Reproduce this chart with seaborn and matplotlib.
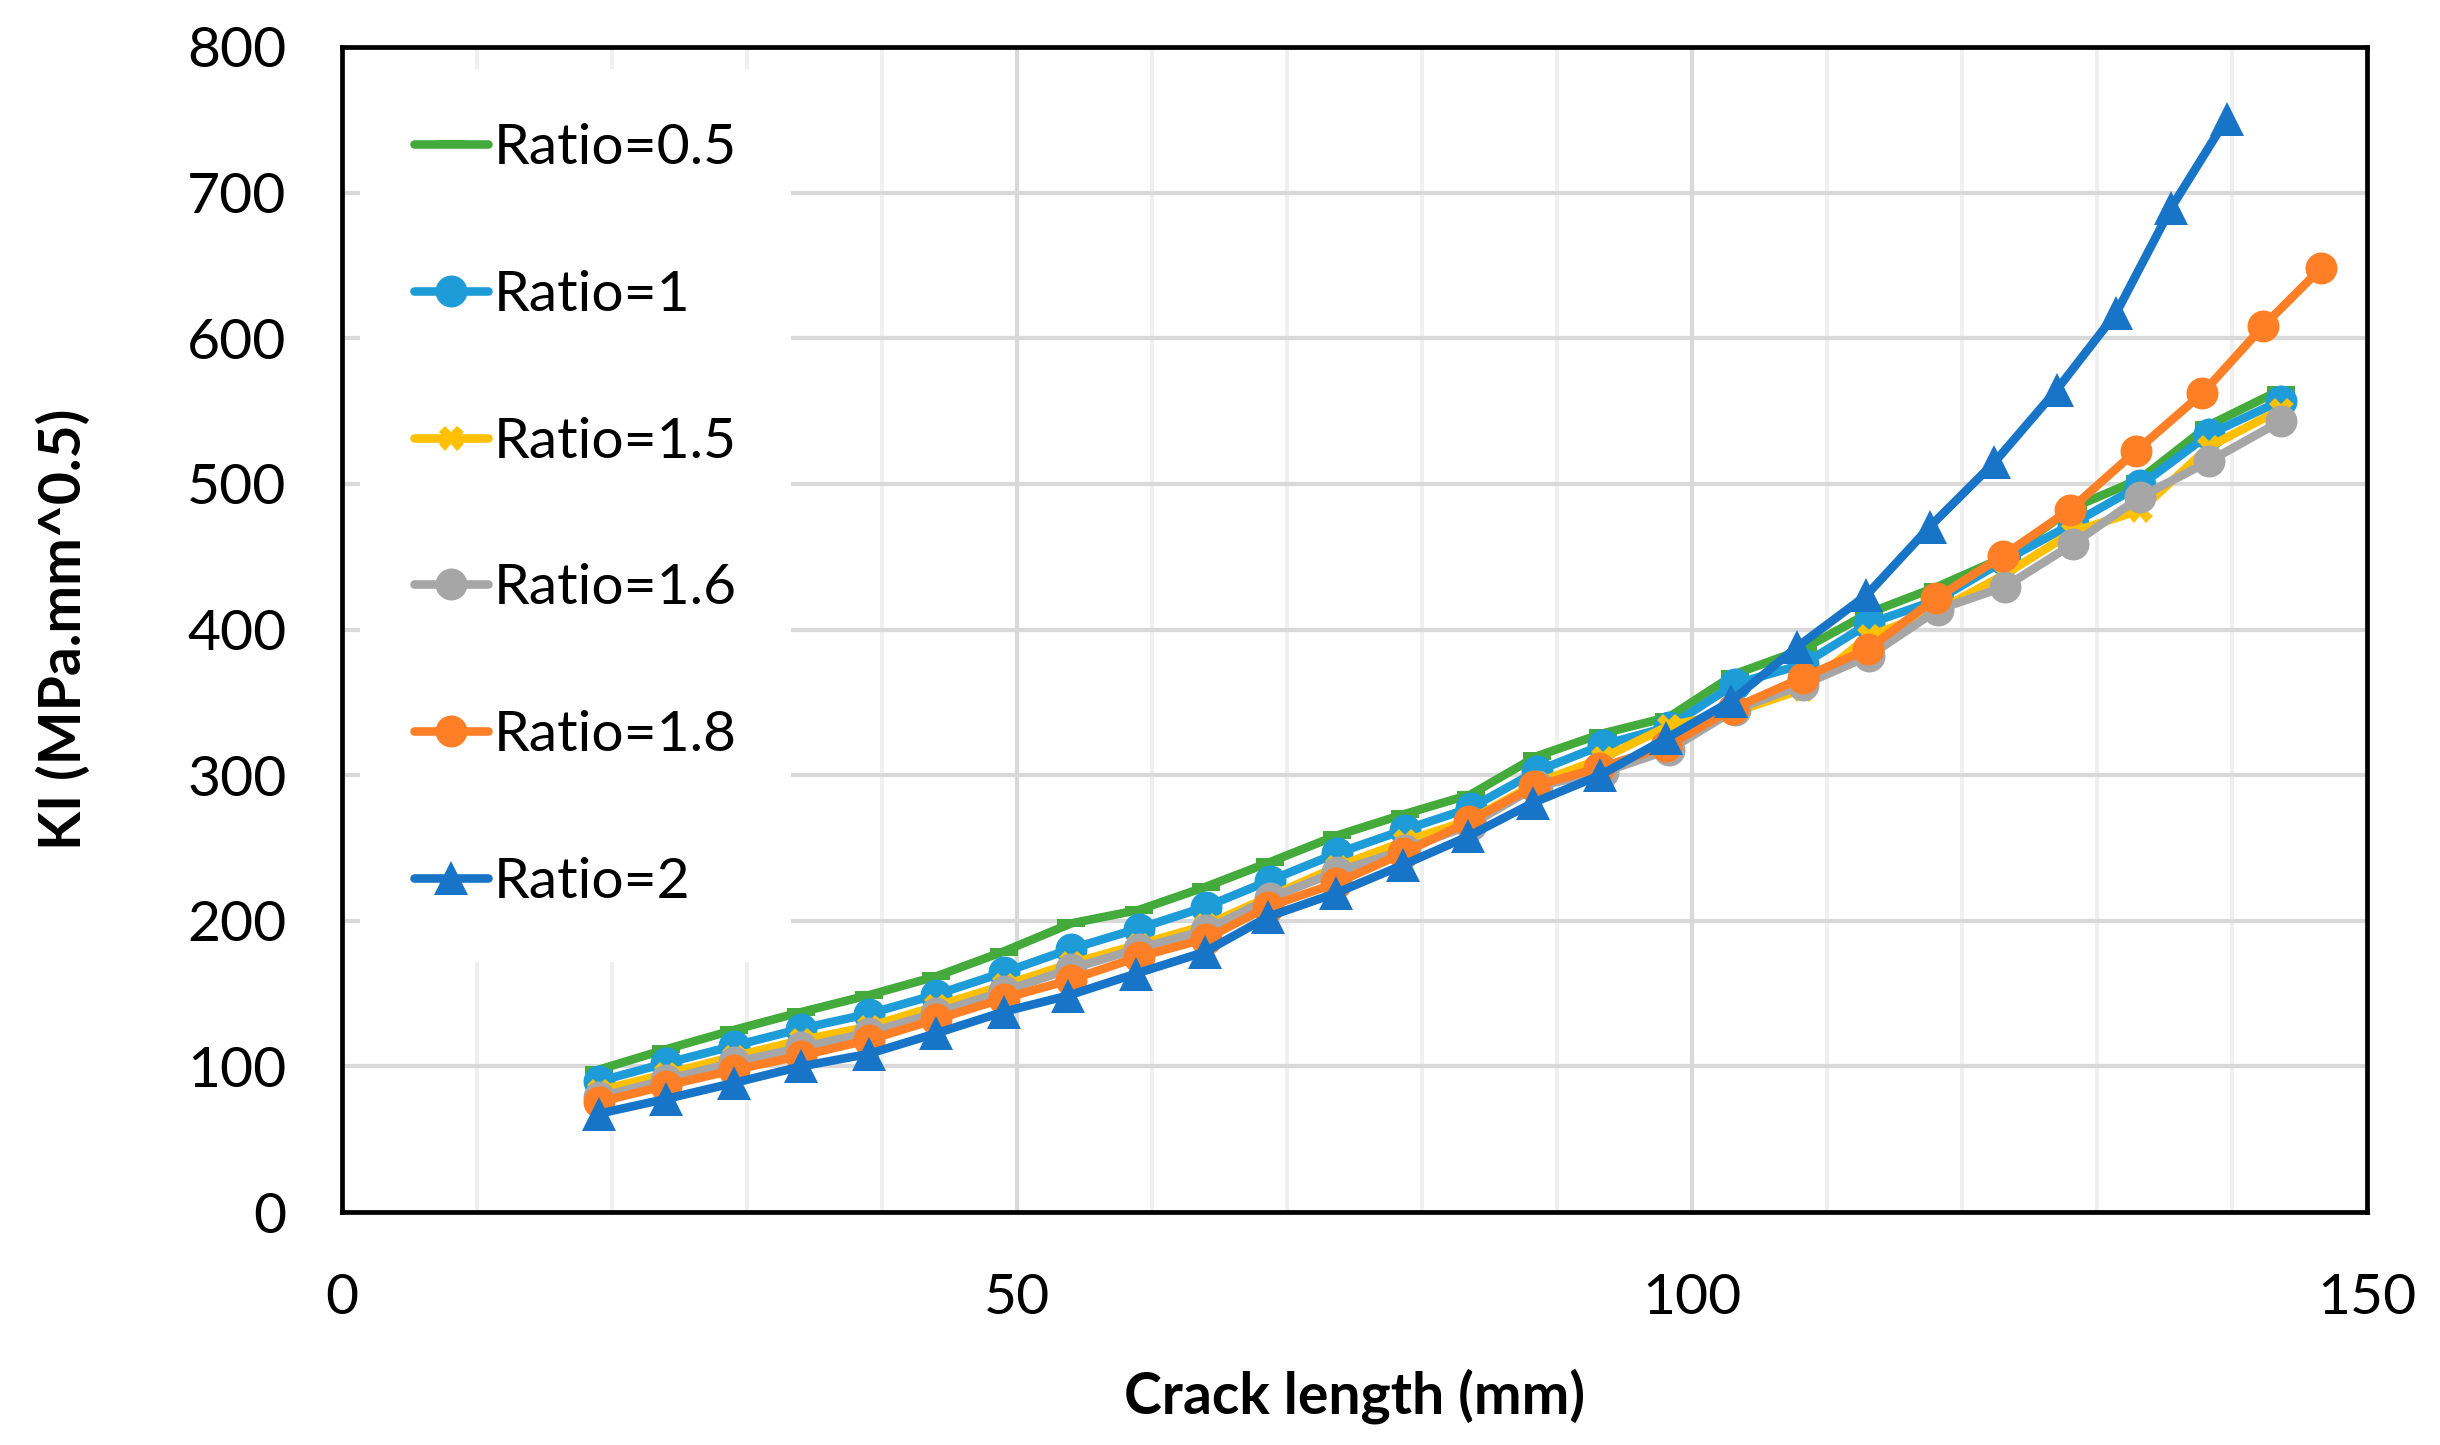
import seaborn as sns
import matplotlib.pyplot as plt
from matplotlib.ticker import MultipleLocator

OUTPUT_IMAGE = "out.png"

# crack length (mm) per series
X_05 = [19, 24, 29, 34, 39, 44, 49, 54, 59, 64, 68.7, 73.7, 78.7, 83.6, 88.5, 93.4,
        98.3, 103.2, 108.2, 113.1, 118.2, 123.2, 128.2, 133.2, 138.3, 143.6]
X_1 = X_05
X_15 = X_05
X_16 = X_05
X_18 = [19, 24, 29, 34, 39, 44, 49, 54, 59, 64, 68.6, 73.6, 78.6, 83.5, 88.3, 93.1,
        98.1, 103.0, 108.2, 113.0, 118.1, 123.0, 128.0, 132.9, 137.8, 142.3, 146.6]
X_2 = [19, 24, 29, 34, 39, 44, 49, 53.8, 58.8, 63.9, 68.6, 73.6, 78.6, 83.4, 88.2, 93.2,
       98.1, 102.9, 107.8, 112.9, 117.6, 122.4, 127.0, 131.4, 135.5, 139.6]

# KI (MPa.mm^0.5)
KI_05 = [97.7, 111.8, 125, 137.3, 148.9, 161.8, 178.9, 198.2, 207.4, 223.4, 240.2, 258.6,
         273.3, 286.7, 313, 328.7, 340, 369.5, 386.4, 411.4, 429.5, 450, 483.6, 503.4,
         540.3, 564.5]
KI_1 = [89.8, 102.3, 114.1, 125.9, 136.1, 149.3, 164.5, 180.8, 194.7, 209.7, 227.6, 246.4,
        262.5, 277.5, 302.8, 320.8, 333.3, 362.7, 376, 404.1, 420.5, 447.7, 472.7, 498.9,
        534.1, 557]
KI_15 = [83.4, 94.8, 106.8, 118, 127.3, 141.4, 155.7, 170.7, 183.7, 197, 216.6, 237.2,
         254.5, 269.4, 294.7, 311.8, 334, 343.4, 359.1, 395.5, 413, 438, 467, 482,
         525.5, 551]
KI_16 = [78.9, 90.9, 102.7, 113, 123.2, 136.8, 151.6, 167.1, 180.9, 193.6, 215.4, 233.8,
         248.7, 266, 292.4, 302, 317.4, 345, 362, 381.8, 413.6, 429.5, 458.6, 491,
         515.5, 543]
KI_18 = [75.5, 86.8, 97.5, 107.3, 118.2, 132.3, 146.6, 159.6, 175.2, 187.8, 209.7, 225.7,
         246.4, 268.3, 292.4, 305, 319.7, 345.7, 367, 386.4, 421.6, 450.5, 482.3, 522.7,
         562.2, 608.2, 648.1]
KI_2 = [67.5, 77.7, 88.6, 100, 108.6, 122.7, 137.5, 148.7, 163.7, 178.6, 202.8, 218.9,
        238.4, 257.9, 280.9, 300, 325.3, 350.9, 388.2, 423.4, 470.5, 514.8, 564.5, 617,
        689.7, 750.8]

LABELS = ["Ratio=0.5", "Ratio=1", "Ratio=1.5", "Ratio=1.6", "Ratio=1.8", "Ratio=2"]
COLORS = ["#43AA3B", "#1E9CD8", "#FFC000", "#A6A6A6", "#FF7F27", "#1874C6"]

# excel-like "dash" marker
DASH = [(-1, -0.32), (1, -0.32), (1, 0.32), (-1, 0.32), (-1, -0.32)]
MARKERS = [DASH, "o", "X", "o", "o", "^"]
MSIZES = [10, 11.5, 9, 11.5, 11.5, 12.5]

sns.set_theme(style="white")
plt.rcParams["font.family"] = ["Lato", "DejaVu Sans"]
plt.rcParams["text.color"] = "black"
plt.rcParams["axes.labelcolor"] = "black"

fig, ax = plt.subplots(figsize=(12.2, 7.225), dpi=200)
fig.subplots_adjust(left=0.1402, right=0.9701, bottom=0.1612, top=0.9675)

series = [(X_05, KI_05), (X_1, KI_1), (X_15, KI_15), (X_16, KI_16), (X_18, KI_18), (X_2, KI_2)]
for (xs, ys), lab, col, mk, ms in zip(series, LABELS, COLORS, MARKERS, MSIZES):
    sns.lineplot(x=xs, y=ys, ax=ax, color=col, marker=mk, markersize=ms,
                 markeredgewidth=0, linewidth=3.1, label=lab, sort=False,
                 estimator=None)

ax.set_xlim(0, 150)
ax.set_ylim(0, 800)
ax.xaxis.set_major_locator(MultipleLocator(50))
ax.xaxis.set_minor_locator(MultipleLocator(10))
ax.yaxis.set_major_locator(MultipleLocator(100))
ax.set_axisbelow(True)
ax.grid(which="minor", axis="x", color="#F0F0F0", linewidth=1.4)
ax.grid(which="major", axis="both", color="#D9D9D9", linewidth=1.5)
ax.tick_params(which="both", length=0, labelsize=20.5, colors="black")
ax.tick_params(axis="y", pad=20)
ax.tick_params(axis="x", pad=22)

for sp in ax.spines.values():
    sp.set_visible(True)
    sp.set_color("black")
    sp.set_linewidth(1.7)

ax.set_xlabel("Crack length (mm)", fontsize=20.5, fontweight="bold")
ax.set_ylabel("KI (MPa.mm^0.5)", fontsize=20.5, fontweight="bold")
ax.xaxis.set_label_coords(0.5, -0.134)
ax.yaxis.set_label_coords(-0.124, 0.5)

leg = ax.legend(loc="upper left", bbox_to_anchor=(0.009, 0.981), fontsize=20.5,
                frameon=True, facecolor="white", edgecolor="none", framealpha=1,
                fancybox=False, labelspacing=1.68, handlelength=1.3,
                handletextpad=0.1, borderpad=0.95, borderaxespad=0)

plt.savefig(OUTPUT_IMAGE)
